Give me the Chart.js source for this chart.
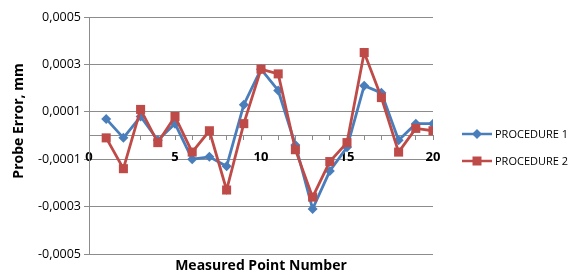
<!DOCTYPE html>
<html>
<head>
<meta charset="utf-8">
<script src="https://cdn.jsdelivr.net/npm/chart.js@4/dist/chart.umd.min.js"></script>
<style>
  body{margin:0;background:#fff;}
  #wrap{width:577px;height:275px;}
</style>
</head>
<body>
<div id="wrap"><canvas id="graph" width="577" height="275"></canvas></div>
<script>
// values (mm)
const pointNumbers=[1,2,3,4,5,6,7,8,9,10,11,12,13,14,15,16,17,18,19,20];
const procedure1=[0.00007,-0.00001,0.00008,-0.00002,0.00005,-0.0001,-0.00009,-0.00013,0.00013,0.00028,
                  0.00019,-0.00004,-0.00031,-0.00015,-0.00005,0.00021,0.00018,-0.00002,0.00005,0.00005];
const procedure2=[-0.00001,-0.00014,0.00011,-0.00003,0.00008,-0.00007,0.00002,-0.00023,0.00005,0.00028,
                  0.00026,-0.00006,-0.00026,-0.00011,-0.00003,0.00035,0.00016,-0.00007,0.00003,0.00002];
const yTicks=[-0.0005,-0.0003,-0.0001,0.0001,0.0003,0.0005];
const xLabels=[0,5,10,15,20];
const seriesNames=["PROCEDURE 1","PROCEDURE 2"];

const BLUE="#4a7ebb";
const RED="#be4b48";
const GRID="#8c8c8c";

const toPoints=(vals)=>{
    var pts=[];
    vals.forEach((v,i)=>{
        pts.push({x:pointNumbers[i],y:v});
    });
    return pts;
}

function marker(ctx,style,x,y,color){
    ctx.save();
    ctx.fillStyle=color;
    ctx.beginPath();
    if(style=="rectRot"){
        ctx.moveTo(x,y-5);ctx.lineTo(x+5,y);ctx.lineTo(x,y+5);ctx.lineTo(x-5,y);
    }else{
        ctx.rect(x-4.5,y-4.5,9,9);
    }
    ctx.closePath();
    ctx.fill();
    ctx.restore();
}

// axis titles and legend drawn in the Excel positions
const extras={
    id:"extras",
    afterDraw(chart){
        const ctx=chart.ctx;
        ctx.save();
        ctx.fillStyle="#000";
        ctx.font="bold 14px 'Open Sans'";
        ctx.textAlign="center";
        ctx.textBaseline="middle";
        ctx.fillText("Measured Point Number",261,266);
        ctx.translate(19,121);
        ctx.rotate(-Math.PI/2);
        ctx.fillText("Probe Error, mm",0,0);
        ctx.restore();

        chart.data.datasets.forEach(ds=>{
            const y=ds.legendY;
            ctx.save();
            ctx.strokeStyle=ds.borderColor;
            ctx.lineWidth=2.5;
            ctx.beginPath();
            ctx.moveTo(462,y);ctx.lineTo(492,y);
            ctx.stroke();
            ctx.restore();
            marker(ctx,ds.pointStyle,477,y,ds.borderColor);
            ctx.save();
            ctx.fillStyle="#000";
            ctx.font="11px 'Open Sans'";
            ctx.textBaseline="middle";
            ctx.fillText(ds.label,495,y+1);
            ctx.restore();
        });
    }
};

const data={
    datasets:[{
        label:seriesNames[0],
        data:toPoints(procedure1),
        borderColor:BLUE,
        backgroundColor:BLUE,
        borderWidth:2.8,
        pointStyle:"rectRot",
        pointRadius:5,
        pointHoverRadius:5,
        pointBorderWidth:0,
        order:1,
        legendY:134
    },{
        label:seriesNames[1],
        data:toPoints(procedure2),
        borderColor:RED,
        backgroundColor:RED,
        borderWidth:2.8,
        pointStyle:"rect",
        pointRadius:6.4,
        pointHoverRadius:6.4,
        pointBorderWidth:0,
        order:0,
        legendY:161
    }]
};

const options={
    responsive:false,
    animation:false,
    layout:{padding:{left:0,right:144,top:17,bottom:21}},
    plugins:{
        legend:{display:false},
        tooltip:{enabled:false}
    },
    scales:{
        x:{
            type:"linear",
            position:{y:0},
            min:0,
            max:20,
            ticks:{
                stepSize:1,
                autoSkip:false,
                maxRotation:0,
                padding:10,
                color:"#000",
                font:{family:"'Open Sans'",size:13,weight:"bold"},
                callback:(v)=>xLabels.includes(v)?String(v):""
            },
            grid:{drawOnChartArea:false,color:GRID,tickLength:4},
            border:{color:GRID,width:1}
        },
        y:{
            min:-0.0005,
            max:0.0005,
            afterBuildTicks:(scale)=>{
                scale.ticks=yTicks.map(v=>({value:v}));
            },
            afterFit:(scale)=>{
                scale.width=89;
            },
            ticks:{
                padding:3,
                color:"#000",
                font:{family:"'Open Sans'",size:12.5},
                callback:(v)=>v.toFixed(4).replace(".",",")
            },
            grid:{color:GRID,tickLength:5},
            border:{color:GRID,width:1}
        }
    }
};

new Chart("graph",{type:"line",data,options,plugins:[extras]});
</script>
</body>
</html>
